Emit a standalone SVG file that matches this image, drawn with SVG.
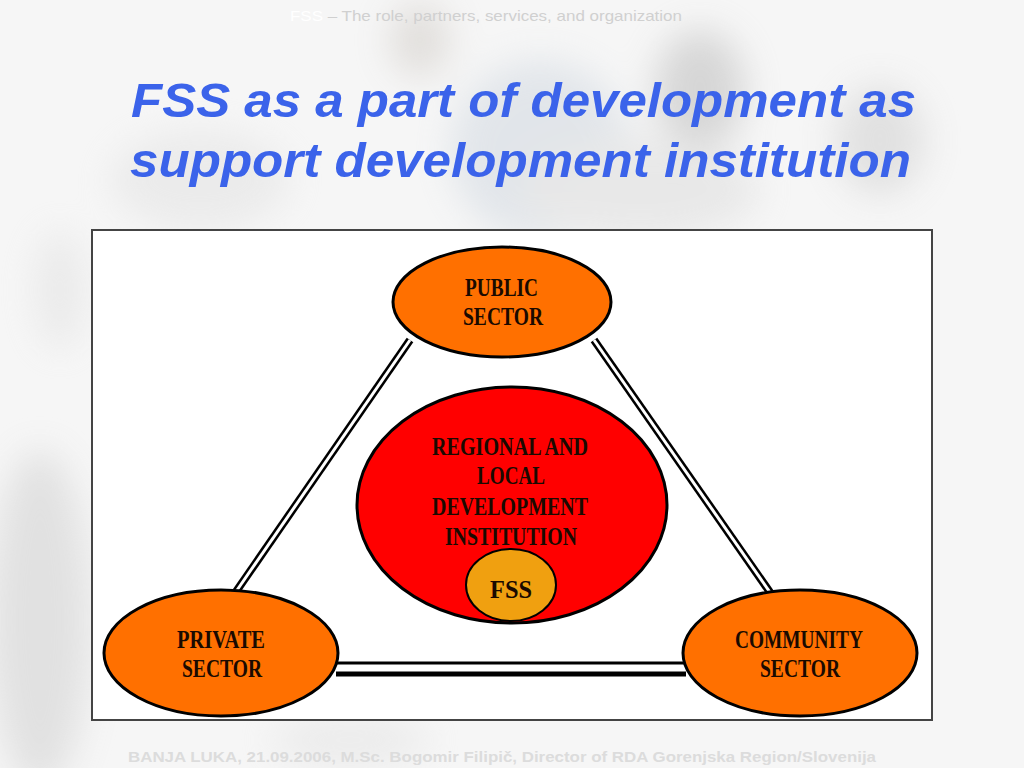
<svg xmlns="http://www.w3.org/2000/svg" width="1024" height="768" viewBox="0 0 1024 768">
<defs>
<filter id="blur" x="-50%" y="-50%" width="200%" height="200%"><feGaussianBlur stdDeviation="18"/></filter>
<style>
.title{font-family:"Liberation Sans",Arial,sans-serif;font-weight:bold;font-style:italic;font-size:48px;fill:#3b63ea}
.lbl{font-family:"Liberation Serif","Times New Roman",serif;font-weight:bold;font-size:25px;fill:#1a0a00}
.sector{fill:#ff7000;stroke:#000;stroke-width:3}
.dbl-out{stroke:#000;stroke-width:8;fill:none}
.dbl-in{stroke:#fff;stroke-width:3;fill:none}
</style>
</defs>
<rect width="1024" height="768" fill="#f6f6f6"/>
<g filter="url(#blur)" opacity="0.45">
<ellipse cx="420" cy="40" rx="30" ry="38" fill="#c8c2bc"/>
<ellipse cx="540" cy="150" rx="90" ry="90" fill="#c9d2dc"/>
<ellipse cx="700" cy="90" rx="45" ry="60" fill="#b0b0b0"/>
<ellipse cx="880" cy="140" rx="45" ry="55" fill="#c8c8c8"/>
<ellipse cx="640" cy="190" rx="120" ry="50" fill="#d8d8d8"/>
<ellipse cx="200" cy="180" rx="90" ry="50" fill="#dedede"/>
<ellipse cx="40" cy="620" rx="50" ry="170" fill="#c8c8c8"/>
<ellipse cx="60" cy="290" rx="25" ry="60" fill="#dcdcdc"/>
<ellipse cx="350" cy="740" rx="80" ry="25" fill="#dedede"/>
</g>
<text x="290" y="21" font-family="Liberation Sans,Arial,sans-serif" font-size="15" fill="#d0d0d0" textLength="392" lengthAdjust="spacingAndGlyphs"><tspan fill="#ffffff">FSS</tspan> – The role, partners, services, and organization</text>
<text class="title" x="131" y="117" textLength="785" lengthAdjust="spacingAndGlyphs">FSS as a part of development as</text>
<text class="title" x="130" y="177" textLength="781" lengthAdjust="spacingAndGlyphs">support development institution</text>
<rect x="92" y="230" width="840" height="490" fill="#fff" stroke="#444" stroke-width="2"/>
<g id="connectors">
<line class="dbl-out" x1="410" y1="340" x2="233" y2="596"/>
<line class="dbl-in" x1="410" y1="340" x2="233" y2="596"/>
<line class="dbl-out" x1="594" y1="340" x2="774" y2="598"/>
<line class="dbl-in" x1="594" y1="340" x2="774" y2="598"/>
<line x1="336" y1="663" x2="686" y2="663" stroke="#000" stroke-width="3"/>
<line x1="336" y1="674" x2="686" y2="674" stroke="#000" stroke-width="5"/>
</g>
<g id="public">
<ellipse class="sector" cx="502" cy="302" rx="109" ry="55"/>
<text class="lbl" x="465" y="296" textLength="73" lengthAdjust="spacingAndGlyphs">PUBLIC</text>
<text class="lbl" x="463" y="325" textLength="80" lengthAdjust="spacingAndGlyphs">SECTOR</text>
</g>
<g id="rdi">
<ellipse cx="512" cy="505" rx="155" ry="118" fill="#ff0000" stroke="#000" stroke-width="3"/>
<text class="lbl" x="432" y="455" textLength="156" lengthAdjust="spacingAndGlyphs">REGIONAL AND</text>
<text class="lbl" x="477" y="484" textLength="68" lengthAdjust="spacingAndGlyphs">LOCAL</text>
<text class="lbl" x="432" y="515" textLength="156" lengthAdjust="spacingAndGlyphs">DEVELOPMENT</text>
<text class="lbl" x="445" y="545" textLength="132" lengthAdjust="spacingAndGlyphs">INSTITUTION</text>
</g>
<g id="fss">
<ellipse cx="511" cy="585" rx="45" ry="36" fill="#f0a010" stroke="#000" stroke-width="2"/>
<text class="lbl" x="490" y="598" textLength="42" lengthAdjust="spacingAndGlyphs">FSS</text>
</g>
<g id="private">
<ellipse class="sector" cx="221" cy="653" rx="117" ry="63"/>
<text class="lbl" x="177" y="648" textLength="88" lengthAdjust="spacingAndGlyphs">PRIVATE</text>
<text class="lbl" x="182" y="677" textLength="80" lengthAdjust="spacingAndGlyphs">SECTOR</text>
</g>
<g id="community">
<ellipse class="sector" cx="800" cy="653" rx="117" ry="63"/>
<text class="lbl" x="735" y="648" textLength="128" lengthAdjust="spacingAndGlyphs">COMMUNITY</text>
<text class="lbl" x="760" y="677" textLength="80" lengthAdjust="spacingAndGlyphs">SECTOR</text>
</g>
<text x="128" y="762" font-family="Liberation Sans,Arial,sans-serif" font-weight="bold" font-size="15" fill="#dcdcdc" textLength="748" lengthAdjust="spacingAndGlyphs">BANJA LUKA, 21.09.2006, M.Sc. Bogomir Filipič, Director of RDA Gorenjska Region/Slovenija</text>
</svg>
